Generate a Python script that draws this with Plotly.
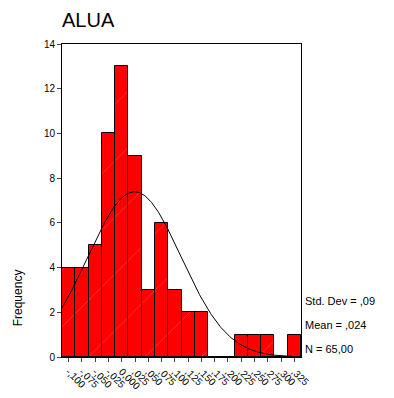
import numpy as np
import plotly.graph_objects as go

bin_centers = [-0.100, -0.075, -0.050, -0.025, 0.000, 0.025, 0.050, 0.075, 0.100,
               0.125, 0.150, 0.175, 0.200, 0.225, 0.250, 0.275, 0.300, 0.325]
counts = [4, 4, 5, 10, 13, 9, 3, 6, 3, 2, 2, 0, 0, 1, 1, 1, 0, 1]
tick_labels = ["-,100", "-,075", "-,050", "-,025", "0,000", ",025", ",050", ",075", ",100",
               ",125", ",150", ",175", ",200", ",225", ",250", ",275", ",300", ",325"]
stats = ["Std. Dev = ,09", "Mean = ,024", "N = 65,00"]
mean_val = 0.024
sd_val = 0.0877
n_val = 65
bin_width = 0.025

x_lo = bin_centers[0] - bin_width / 2
x_hi = bin_centers[-1] + bin_width / 2
xs = np.linspace(x_lo, x_hi, 300)
ys = n_val * bin_width / (sd_val * np.sqrt(2 * np.pi)) * np.exp(-0.5 * ((xs - mean_val) / sd_val) ** 2)

fig = go.Figure()
fig.add_trace(go.Bar(
    x=bin_centers, y=counts, width=bin_width,
    marker=dict(color="#ff0000", line=dict(color="black", width=1),
                pattern=dict(shape="/", fgcolor="rgba(255,255,255,0.5)", size=40, solidity=0.02)),
    showlegend=False,
))
fig.add_trace(go.Scatter(x=xs, y=ys, mode="lines", line=dict(color="black", width=1),
                         showlegend=False))

fig.update_layout(
    width=386, height=390,
    margin=dict(l=54, r=93, t=36, b=41),
    paper_bgcolor="white", plot_bgcolor="white",
    font=dict(family="Liberation Sans, Arial, sans-serif", color="black"),
    bargap=0,
    title=dict(text="ALUA", font=dict(size=20), xref="container", yref="container",
               x=54 / 386, xanchor="left", y=1 - 12 / 390, yanchor="middle", pad=dict(l=0)),
    xaxis=dict(range=[x_lo, x_hi], tickvals=bin_centers, ticktext=tick_labels,
               tickangle=45, tickfont=dict(size=10), ticks="outside", ticklen=4,
               showline=True, linecolor="black", linewidth=1, mirror=True,
               showgrid=False, zeroline=False, automargin=False),
    yaxis=dict(range=[0, 14], tickvals=[0, 2, 4, 6, 8, 10, 12, 14],
               tickfont=dict(size=10), ticks="outside", ticklen=4,
               showline=True, linecolor="black", linewidth=1, mirror=True,
               showgrid=False, zeroline=False, automargin=False),
)

fig.add_annotation(text="Frequency", xref="paper", yref="paper", x=-0.185, y=0.19,
                   xanchor="center", yanchor="middle", textangle=-90, showarrow=False,
                   font=dict(size=12))
for i, s in enumerate(stats):
    fig.add_annotation(text=s, xref="paper", yref="paper", x=1.008, y=0.18 - i * 0.077,
                       xanchor="left", yanchor="middle", showarrow=False, font=dict(size=11))

fig.write_html("out.html")
